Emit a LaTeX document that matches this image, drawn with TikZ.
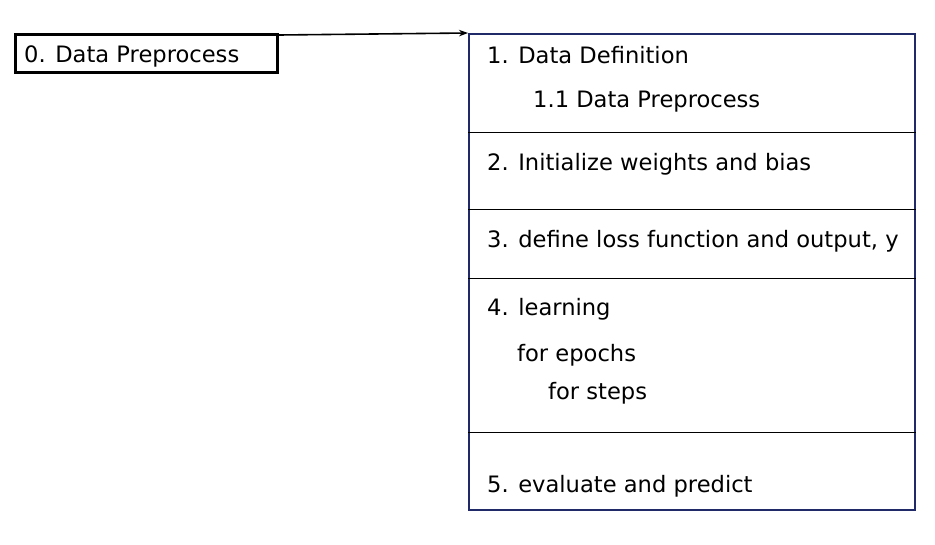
\documentclass[tikz,border=0pt]{standalone}
\usepackage{fontspec}
\setmainfont{DejaVu Sans}
\usetikzlibrary{arrows.meta}
\definecolor{framenavy}{RGB}{32,42,104}
\tikzset{
    txt/.style={anchor=base west, inner sep=0pt, font=\fontsize{22.6}{27}\selectfont},
    divider/.style={line width=1.2pt}
}
\begin{document}
\begin{tikzpicture}[x=1pt, y=-1pt]
    \useasboundingbox (0,0) rectangle (935,544);

    \node[draw, line width=3pt, minimum width=262pt, minimum height=38pt, inner sep=0pt, anchor=north west] (prep) at (14,33) {};
    \node[txt] (preplabel) at (24,62) {0. Data Preprocess};

    \node[draw=framenavy, line width=2.3pt, minimum width=446pt, minimum height=476pt, inner sep=0pt, anchor=north west] (frame) at (468,33) {};
    \draw[divider] (frame.west |- 0,132.5) -- (frame.east |- 0,132.5);
    \draw[divider] (frame.west |- 0,209.5) -- (frame.east |- 0,209.5);
    \draw[divider] (frame.west |- 0,278.5) -- (frame.east |- 0,278.5);
    \draw[divider] (frame.west |- 0,432.5) -- (frame.east |- 0,432.5);

    \node[txt] (def) at (487,63.5) {1. Data Definition};
    \node[txt] (defprep) at (533,107.5) {1.1 Data Preprocess};
    \node[txt] (init) at (487,170.5) {2. Initialize weights and bias};
    \node[txt] (loss) at (487,247.5) {3. define loss function and output, y};
    \node[txt] (learn) at (487,315.5) {4. learning};
    \node[txt] (epochs) at (517,361.5) {for epochs};
    \node[txt] (steps) at (548,399) {for steps};
    \node[txt] (eval) at (487,492.5) {5. evaluate and predict};

    \draw[line width=1.6pt, -{Stealth[length=9pt, width=6.5pt]}] ([yshift=-2pt]prep.north east) -- (frame.north west);
\end{tikzpicture}
\end{document}
